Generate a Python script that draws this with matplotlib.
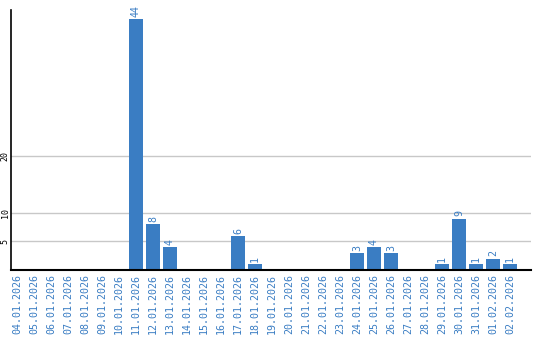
import matplotlib
matplotlib.use("Agg")
import matplotlib.pyplot as plt

dates = ["04.01.2026", "05.01.2026", "06.01.2026", "07.01.2026", "08.01.2026",
         "09.01.2026", "10.01.2026", "11.01.2026", "12.01.2026", "13.01.2026",
         "14.01.2026", "15.01.2026", "16.01.2026", "17.01.2026", "18.01.2026",
         "19.01.2026", "20.01.2026", "21.01.2026", "22.01.2026", "23.01.2026",
         "24.01.2026", "25.01.2026", "26.01.2026", "27.01.2026", "28.01.2026",
         "29.01.2026", "30.01.2026", "31.01.2026", "01.02.2026", "02.02.2026"]
counts = [0, 0, 0, 0, 0, 0, 0, 44, 8, 4,
          0, 0, 0, 6, 1, 0, 0, 0, 0, 0,
          3, 4, 3, 0, 0, 1, 9, 1, 2, 1]
y_ticks = [5, 10, 20]

blue = "#3a7dc3"
mono = "DejaVu Sans Mono"

fig = plt.figure(figsize=(5.4, 3.4), dpi=100)
ax = fig.add_axes([11 / 540, 70 / 340, 520 / 540, 260 / 340])

x = list(range(len(dates)))
ax.bar(x, counts, width=0.82, color=blue, zorder=2)

for xi, c in zip(x, counts):
    if c > 0:
        ax.text(xi, c + 0.4, str(c), rotation=90, ha="center", va="bottom",
                color=blue, fontsize=7.2, family=mono)

ax.set_xlim(-0.35, 30.24)
ax.set_ylim(0, 45.6)
ax.set_yticks(y_ticks)
ax.set_yticklabels([str(t) for t in y_ticks], rotation=90, va="center",
                   fontsize=6, family=mono)
ax.grid(axis="y", color="#c8c8c8", linewidth=1, zorder=0)
ax.tick_params(axis="y", length=0, pad=1)
ax.tick_params(axis="x", length=0, pad=3)
ax.set_xticks(x)
ax.set_xticklabels(dates, rotation=90, color=blue, fontsize=7.2, family=mono)

for s in ["top", "right"]:
    ax.spines[s].set_visible(False)
ax.spines["left"].set_linewidth(1.2)
ax.spines["bottom"].set_linewidth(1.5)

fig.savefig("out.png", dpi=100)
